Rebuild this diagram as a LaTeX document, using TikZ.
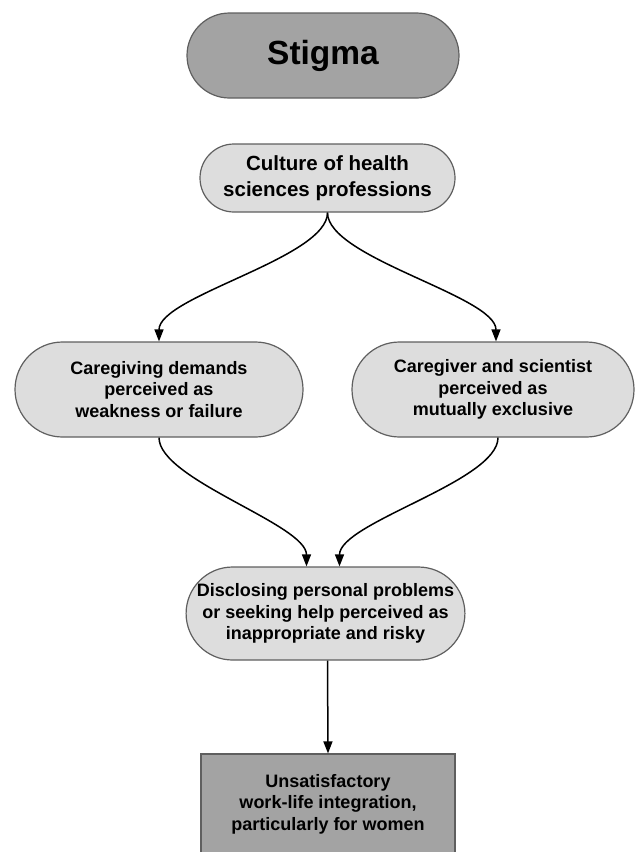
\documentclass[tikz,border=0pt]{standalone}
\usepackage{fontspec}
\setmainfont{Liberation Sans}
\usetikzlibrary{shapes.misc, arrows.meta}
\definecolor{boxlight}{RGB}{221,221,221}
\definecolor{boxdark}{RGB}{163,163,163}
\definecolor{rimgray}{RGB}{95,95,95}

\begin{document}
\begin{tikzpicture}[x=1pt, y=-1pt,
    pill/.style={rounded rectangle, draw=rimgray, line width=1.2pt, fill=boxlight,
        align=center, inner sep=0pt, font=\bfseries\fontsize{18}{21.5}\selectfont},
    flow/.style={-{Triangle[length=12pt,width=9pt]}, line width=1.5pt, looseness=0.55}]
    \useasboundingbox (0,0) rectangle (637,852);
    \node[pill, fill=boxdark, minimum width=272pt, minimum height=85pt,
        font=\bfseries\fontsize{33.5}{40}\selectfont] (stigma) at (323,55.5) {Stigma};
    \node[pill, minimum width=255pt, minimum height=68pt,
        font=\bfseries\fontsize{20.5}{26}\selectfont] (culture) at (327.5,178) {Culture of health\\sciences professions};
    \node[pill, minimum width=288pt, minimum height=95pt] (weak) at (159,389.5) {Caregiving demands\\perceived as\\weakness or failure};
    \node[pill, minimum width=282pt, minimum height=95pt] (excl) at (493,389.5) {Caregiver and scientist\\perceived as\\mutually exclusive};
    \node[pill, minimum width=275pt, minimum height=93pt] (risk) at (325.5,613.5) {Disclosing personal problems\\or seeking help perceived as\\inappropriate and risky};
    \node[rectangle, draw=rimgray, line width=1.2pt, fill=boxdark, minimum width=254pt, minimum height=100pt,
        align=center, inner sep=0pt, font=\bfseries\fontsize{18}{21.5}\selectfont] (work) at (328,804) {Unsatisfactory\\work-life integration,\\particularly for women};

    \draw[flow] (culture.south) to[out=-90, in=90] (weak.north);
    \draw[flow] (culture.south) to[out=-90, in=90] ([xshift=3pt]excl.north);
    \draw[flow] (weak.south) to[out=-90, in=90] ([xshift=-19pt]risk.north);
    \draw[flow] ([xshift=5pt]excl.south) to[out=-90, in=90] ([xshift=14pt]risk.north);
    \draw[flow] ([xshift=2pt]risk.south) -- (work.north);
\end{tikzpicture}
\end{document}
